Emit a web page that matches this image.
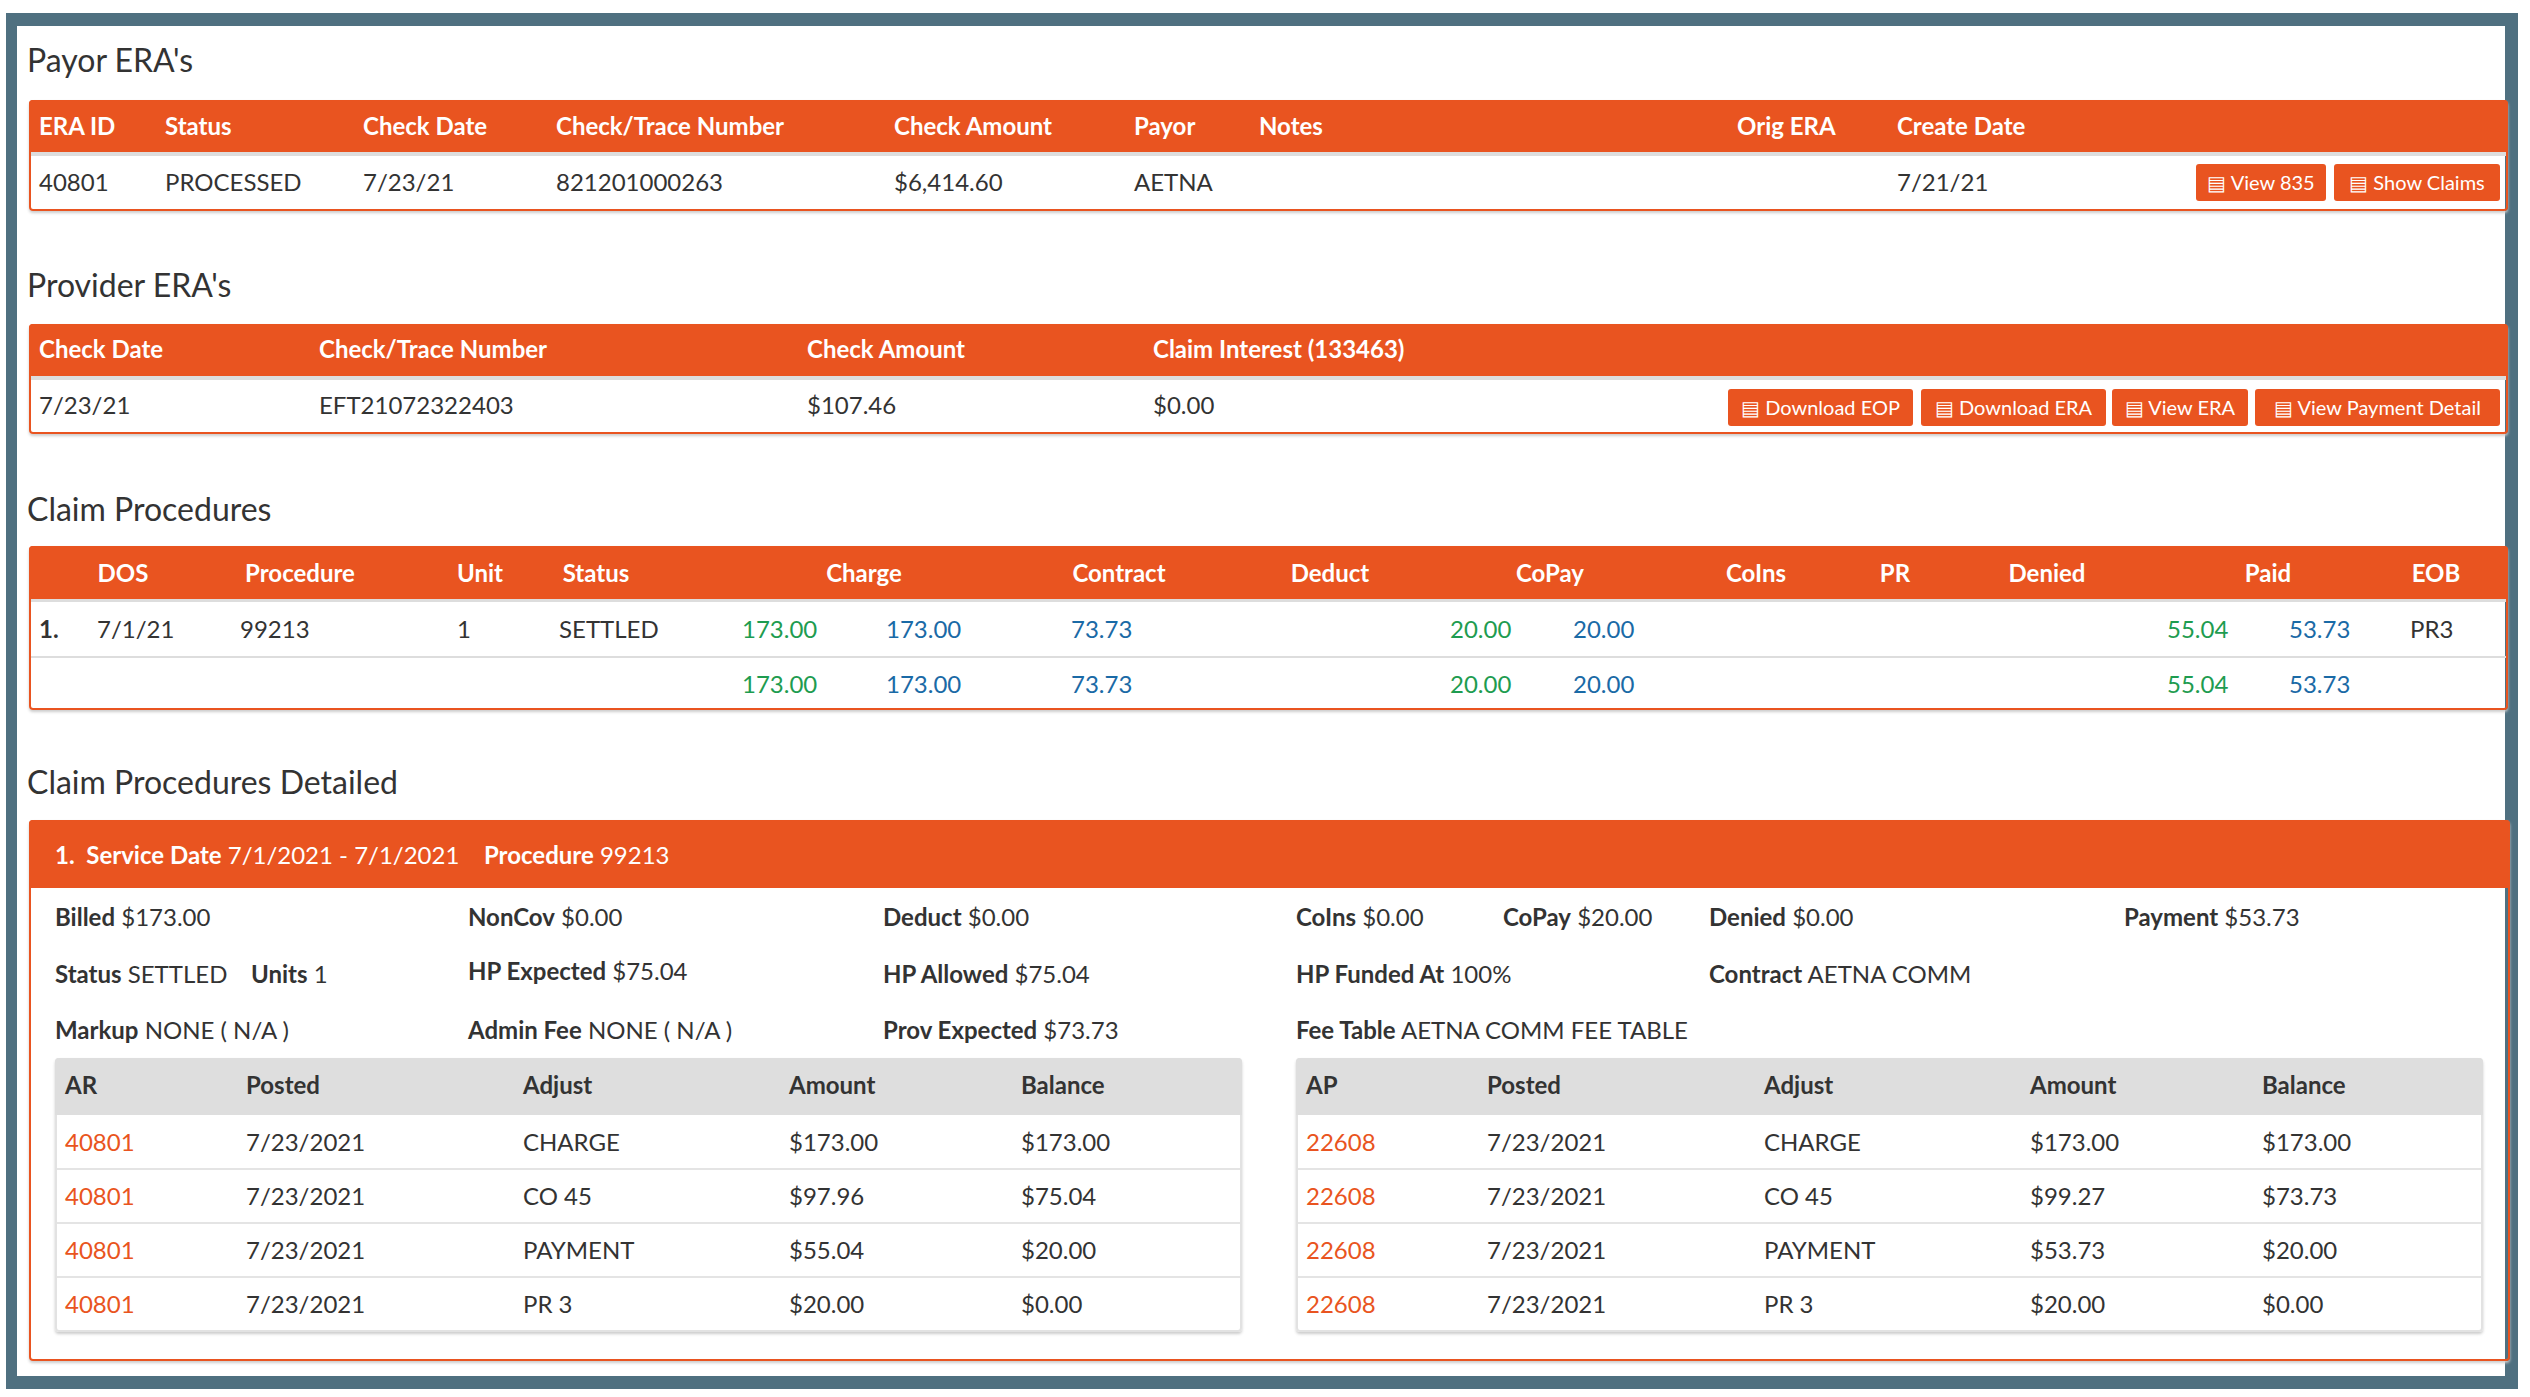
<!DOCTYPE html>
<html><head><meta charset="utf-8">
<script src="https://cdn.jsdelivr.net/npm/chart.js@4"></script>
<style>
html,body{margin:0;padding:0;background:#fff;width:2530px;height:1397px;overflow:hidden}
#frame{position:absolute;left:6px;top:13px;width:2488px;height:1350px;border:13px solid #4f7080;border-left-width:11px;background:#fff}
#root{position:absolute;left:0;top:0;width:2530px;height:1397px;font-family:Lato,"Noto Sans",sans-serif;color:#333}
.t{position:absolute;white-space:nowrap;font-size:24px;line-height:30px;transform:translateY(-50%)}
.b{font-weight:bold}
.h{font-size:32px}
.box{position:absolute}
.btn{position:absolute;background:#e95420;color:#fff;font-size:20px;border-radius:3px;display:flex;align-items:center;justify-content:center;white-space:nowrap}
</style></head><body>
<div id="frame"></div>
<div id="root"></div>
<script>
// ---- data ----
const payorHeaders=["ERA ID","Status","Check Date","Check/Trace Number","Check Amount","Payor","Notes","Orig ERA","Create Date"];
const payorRow=["40801","PROCESSED","7/23/21","821201000263","$6,414.60","AETNA","","","7/21/21"];
const payorButtons=["View 835","Show Claims"];
const provHeaders=["Check Date","Check/Trace Number","Check Amount","Claim Interest (133463)"];
const provRow=["7/23/21","EFT21072322403","$107.46","$0.00"];
const provButtons=["Download EOP","Download ERA","View ERA","View Payment Detail"];
const procHeaders=["DOS","Procedure","Unit","Status","Charge","Contract","Deduct","CoPay","CoIns","PR","Denied","Paid","EOB"];
const procRow1=["1.","7/1/21","99213","1","SETTLED","173.00","173.00","73.73","20.00","20.00","55.04","53.73","PR3"];
const procTotals=["173.00","173.00","73.73","20.00","20.00","55.04","53.73"];
const detailHeader=["1.","Service Date","7/1/2021 - 7/1/2021","Procedure","99213"];
const detailLabels=[["Billed","$173.00"],["NonCov","$0.00"],["Deduct","$0.00"],["CoIns","$0.00"],["CoPay","$20.00"],["Denied","$0.00"],["Payment","$53.73"],
 ["Status","SETTLED"],["Units","1"],["HP Expected"," $75.04"],["HP Allowed","$75.04"],["HP Funded At","100%"],["Contract","AETNA COMM"],
 ["Markup","NONE ( N/A )"],["Admin Fee","NONE ( N/A )"],["Prov Expected","$73.73"],["Fee Table","AETNA COMM FEE TABLE"]];
const arHeaders=["AR","Posted","Adjust","Amount","Balance"];
const arRows=[["40801","7/23/2021","CHARGE","$173.00","$173.00"],["40801","7/23/2021","CO 45","$97.96","$75.04"],["40801","7/23/2021","PAYMENT","$55.04","$20.00"],["40801","7/23/2021","PR 3","$20.00","$0.00"]];
const apHeaders=["AP","Posted","Adjust","Amount","Balance"];
const apRows=[["22608","7/23/2021","CHARGE","$173.00","$173.00"],["22608","7/23/2021","CO 45","$99.27","$73.73"],["22608","7/23/2021","PAYMENT","$53.73","$20.00"],["22608","7/23/2021","PR 3","$20.00","$0.00"]];

// ---- layout ----
const OR="#e95420",GR="#1e9c50",BL="#1a6aa6";
const R=document.getElementById('root');
function box(x,y,w,h,css){const d=document.createElement('div');d.className='box';d.style.cssText=`left:${x}px;top:${y}px;width:${w}px;height:${h}px;`+(css||'');R.appendChild(d);return d;}
function t(x,y,s,cls,css){const d=document.createElement('div');d.className='t '+(cls||'');d.style.cssText=`left:${x}px;top:${y}px;`+(css||'');d.textContent=s;R.appendChild(d);return d;}
function tc(cx,y,s,cls,css){const d=t(cx,y,s,cls,css);d.style.transform='translate(-50%,-50%)';return d;}
function btn(x,y,w,h,s){const d=document.createElement('div');d.className='btn';d.style.cssText=`left:${x}px;top:${y}px;width:${w}px;height:${h}px;`;d.textContent='\u25A4 '+s;R.appendChild(d);}
const L=29,W=2479;

// Payor
t(27,60,"Payor ERA's","h");
box(L,100,W,111,`border:2px solid ${OR};border-radius:4px;box-sizing:border-box;box-shadow:0 2px 3px #ccc`);
box(L,100,W,52,`background:${OR};border-radius:4px 4px 0 0`);
box(L+2,152,W-4,4,'background:#ddd');
const pX=[39,165,363,556,894,1134,1259,1737,1897];
payorHeaders.forEach((h,i)=>t(pX[i],126,h,'b','color:#fff'));
payorRow.forEach((v,i)=>t(pX[i],182,v));
btn(2196,164,130,37,payorButtons[0]);btn(2334,164,166,37,payorButtons[1]);

// Provider
t(27,285,"Provider ERA's","h");
box(L,324,W,110,`border:2px solid ${OR};border-radius:4px;box-sizing:border-box;box-shadow:0 2px 3px #ccc`);
box(L,324,W,52,`background:${OR};border-radius:4px 4px 0 0`);
box(L+2,376,W-4,4,'background:#ddd');
const vX=[39,319,807,1153];
provHeaders.forEach((h,i)=>t(vX[i],349,h,'b','color:#fff'));
provRow.forEach((v,i)=>t(vX[i],405,v));
btn(1728,389,185,37,provButtons[0]);btn(1921,389,185,37,provButtons[1]);btn(2112,389,136,37,provButtons[2]);btn(2255,389,245,37,provButtons[3]);

// Claim procedures
t(27,509,"Claim Procedures","h");
box(L,546,W,164,`border:2px solid ${OR};border-radius:4px;box-sizing:border-box;box-shadow:0 2px 3px #ccc`);
box(L,546,W,53,`background:${OR};border-radius:4px 4px 0 0`);
box(L+2,599,W-4,3,'background:#ddd');
box(L+2,656,W-4,2,'background:#ddd');
const cC=[123,300,480,596,864,1119,1330,1550,1756,1895,2047,2268,2436];
procHeaders.forEach((h,i)=>tc(cC[i],573,h,'b','color:#fff'));
const rX=[39,97,240,457,559,742,886,1071,1450,1573,2167,2289,2410];
const rCol=[null,null,null,null,null,GR,BL,BL,GR,BL,GR,BL,null];
procRow1.forEach((v,i)=>t(rX[i],629,v,i==0?'b':'',rCol[i]?'color:'+rCol[i]:''));
procTotals.forEach((v,i)=>t(rX[i+5],684,v,'','color:'+rCol[i+5]));

// Detailed
t(27,782,"Claim Procedures Detailed","h");
box(L,820,W+2,541,`border:2px solid ${OR};border-radius:4px;box-sizing:border-box;box-shadow:0 2px 3px #ccc`);
box(L,820,W+2,68,`background:${OR};border-radius:4px 4px 0 0`);
const hd=t(55,855,'','', 'color:#fff');
hd.innerHTML=`<b>${detailHeader[0]}&nbsp; ${detailHeader[1]}</b> ${detailHeader[2]} &nbsp;&nbsp; <b>${detailHeader[3]}</b> ${detailHeader[4]}`;
const dPos=[[55,917],[468,917],[883,917],[1296,917],[1503,917],[1709,917],[2124,917],
 [55,974],[251,974],[468,971],[883,974],[1296,974],[1709,974],
 [55,1030],[468,1030],[883,1030],[1296,1030]];
detailLabels.forEach((p,i)=>{const d=t(dPos[i][0],dPos[i][1],'');d.innerHTML=`<b>${p[0]}</b> ${p[1]}`;});
const subOff=[10,191,468,734,966];
function sub(x0,hdrs,rows){
  box(x0,1058,1187,274,'border:2px solid #e2e2e2;border-radius:4px;box-sizing:border-box;box-shadow:0 2px 3px #ccc');
  box(x0,1058,1187,57,'background:#dedede;border-radius:4px 4px 0 0');
  hdrs.forEach((h,i)=>t(x0+subOff[i],1085,h,'b'));
  const ys=[1142,1196,1250,1304];
  rows.forEach((r,j)=>{ if(j>0) box(x0+2,ys[j]-28,1183,2,'background:#e4e4e4');
    r.forEach((v,i)=>t(x0+subOff[i],ys[j],v,'',i==0?'color:'+OR:''));});
}
sub(55,arHeaders,arRows);
sub(1296,apHeaders,apRows);
</script>
</body></html>
